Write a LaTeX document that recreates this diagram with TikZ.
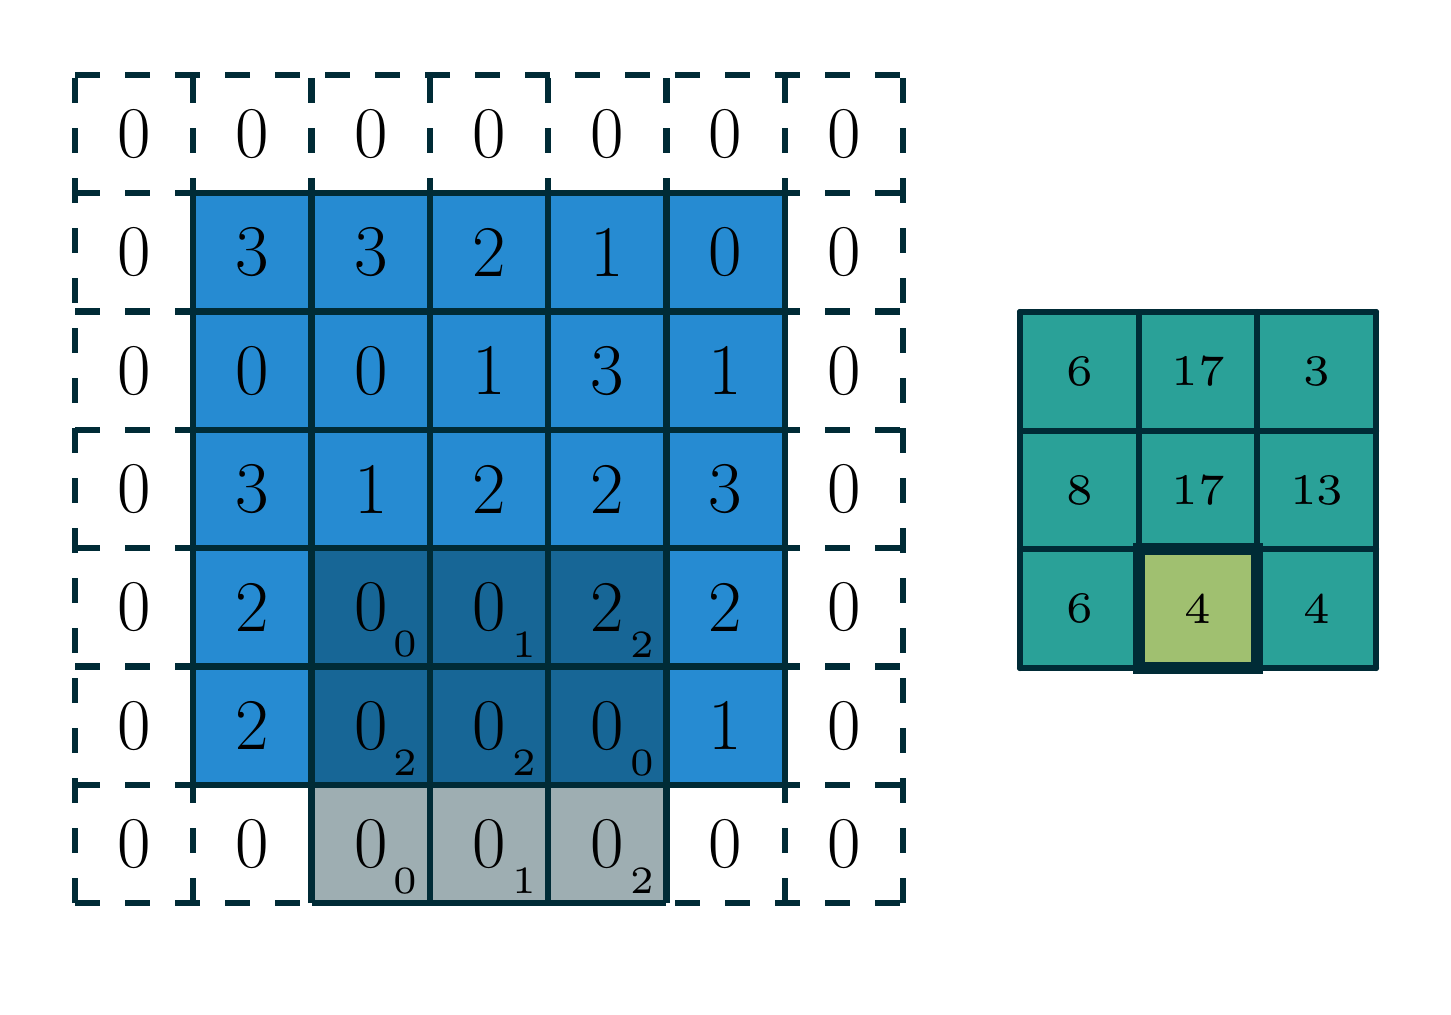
\documentclass[tikz,border=0pt]{standalone}
\usepackage{graphicx}
\definecolor{base03}{HTML}{002B36}
\definecolor{sblue}{HTML}{268BD2}
\definecolor{scyan}{HTML}{2AA198}
\definecolor{sgreen}{HTML}{A0C070}
\newcommand{\smalldigits}[2]{\scalebox{#1}{\fontsize{6pt}{7pt}\selectfont #2}}
\begin{document}
\begin{tikzpicture}[x=0.01cm,y=-0.01cm,
  padline/.style={draw=base03,line width=0.062cm,dash pattern=on 0.25cm off 0.25cm},
  solidline/.style={draw=base03,line width=0.062cm},
  bigtxt/.style={inner sep=0pt,font=\fontsize{20.7pt}{24pt}\selectfont},
  subtxt/.style={inner sep=0pt},
  outtxt/.style={inner sep=0pt}]
\useasboundingbox (0,0) rectangle (1451,1014);
\def\cs{118.29}
% dashed padding grid
\foreach \j in {0,...,7}{
  \draw[padline] (75,{75+\j*\cs}) -- (903,{75+\j*\cs});
  \draw[padline] ({75+\j*\cs},903) -- ({75+\j*\cs},75);
}
% input 5x5
\fill[sblue] ({75+\cs},{75+\cs}) rectangle ({75+6*\cs},{75+6*\cs});
\fill[white] ({75+2*\cs},{75+6*\cs}) rectangle ({75+5*\cs},{75+7*\cs});
% kernel overlay
\fill[base03,opacity=0.38] ({75+2*\cs},{75+4*\cs}) rectangle ({75+5*\cs},{75+7*\cs});
% solid lines
\foreach \j in {1,...,6}{
  \draw[solidline] ({75+\cs},{75+\j*\cs}) -- ({75+6*\cs},{75+\j*\cs});
  \draw[solidline] ({75+\j*\cs},{75+\cs}) -- ({75+\j*\cs},{75+6*\cs});
}
\draw[solidline] ({75+2*\cs},{75+7*\cs}) -- ({75+5*\cs},{75+7*\cs});
\foreach \j in {2,...,5}{
  \draw[solidline] ({75+\j*\cs},{75+6*\cs}) -- ({75+\j*\cs},{75+7*\cs});
}
% input numbers
\foreach \v [count=\k from 0] in {0,0,0,0,0,0,0, 0,3,3,2,1,0,0, 0,0,0,1,3,1,0, 0,3,1,2,2,3,0, 0,2,0,0,2,2,0, 0,2,0,0,0,1,0, 0,0,0,0,0,0,0}{
  \pgfmathtruncatemacro\rr{\k/7}
  \pgfmathtruncatemacro\cc{\k-7*\rr}
  \node[bigtxt] (in-\rr-\cc) at ({75+(\cc+0.5)*\cs},{75+(\rr+0.5)*\cs}) {\v};
}
% kernel weights
\foreach \rr/\cc/\w in {4/2/0,4/3/1,4/4/2,5/2/2,5/3/2,5/4/0,6/2/0,6/3/1,6/4/2}{
  \node[subtxt] (w-\rr-\cc) at ({75+(\cc+0.5)*\cs+35},{75+(\rr+0.5)*\cs+37}) {\smalldigits{1.83}{\w}};
}
% output grid
\def\os{118.67}
\fill[scyan] (1020,312) rectangle ({1020+3*\os},{312+3*\os});
\fill[sgreen] ({1020+\os},{312+2*\os}) rectangle ({1020+2*\os},{312+3*\os});
\foreach \j in {0,...,3}{
  \draw[solidline,line cap=round] (1020,{312+\j*\os}) -- ({1020+3*\os},{312+\j*\os});
  \draw[solidline,line cap=round] ({1020+\j*\os},312) -- ({1020+\j*\os},{312+3*\os});
}
\draw[base03,line width=0.12cm] ({1020+\os},{312+2*\os}) rectangle ({1020+2*\os},{312+3*\os});
\foreach \v [count=\k from 0] in {6,17,3,8,17,13,6,4,4}{
  \pgfmathtruncatemacro\rr{\k/3}
  \pgfmathtruncatemacro\cc{\k-3*\rr}
  \node[outtxt] (out-\rr-\cc) at ({1020+(\cc+0.5)*\os},{312+(\rr+0.5)*\os}) {\smalldigits{2.07}{\v}};
}
\end{tikzpicture}
\end{document}
